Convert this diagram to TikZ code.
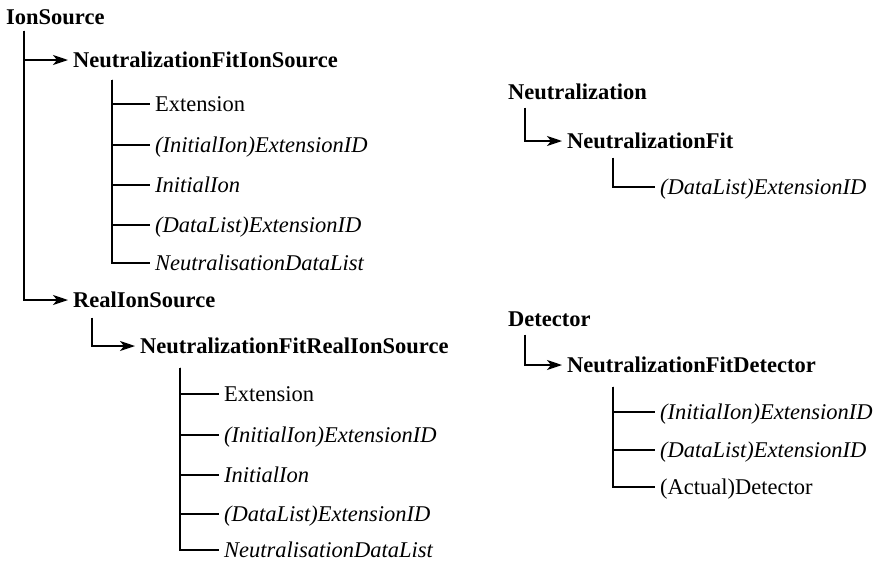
\documentclass[tikz,border=0pt]{standalone}
\usepackage{fontspec}
\setmainfont{Liberation Serif}
\usetikzlibrary{arrows.meta}
\begin{document}
\begin{tikzpicture}[x=1pt,y=-1pt,
  every node/.style={inner sep=0pt, anchor=west, text height=15pt, text depth=0pt,
    font=\fontsize{22.5}{27}\selectfont},
  head/.style={font=\fontsize{22.5}{27}\selectfont\bfseries},
  sub/.style={font=\fontsize{22.5}{27}\selectfont\itshape},
  link/.style={line width=1.6pt},
  arr/.style={link, -{Stealth[length=15pt,width=10pt,inset=4pt]}, shorten >=5pt},
  twig/.style={line width=1.3pt, shorten >=5pt}]

\useasboundingbox (0,0) rectangle (883,563);

% IonSource hierarchy
\node[head] (ion)   at (6,17)  {IonSource};
\node[head] (nfis)  at (73,60) {NeutralizationFitIonSource};
\node       (a1)    at (155,104) {Extension};
\node[sub]  (a2)    at (155,145) {(InitialIon)ExtensionID};
\node[sub]  (a3)    at (155,185) {InitialIon};
\node[sub]  (a4)    at (155,225) {(DataList)ExtensionID};
\node[sub]  (a5)    at (155,263) {NeutralisationDataList};
\node[head] (ris)   at (73,300) {RealIonSource};
\node[head] (nfris) at (140,346) {NeutralizationFitRealIonSource};
\node       (b1)    at (224,394) {Extension};
\node[sub]  (b2)    at (224,435) {(InitialIon)ExtensionID};
\node[sub]  (b3)    at (224,475) {InitialIon};
\node[sub]  (b4)    at (224,514) {(DataList)ExtensionID};
\node[sub]  (b5)    at (224,550) {NeutralisationDataList};

% Neutralization hierarchy
\node[head] (neu) at (508,92)  {Neutralization};
\node[head] (nf)  at (567,141) {NeutralizationFit};
\node[sub]  (c1)  at (660,187) {(DataList)ExtensionID};

% Detector hierarchy
\node[head] (det) at (508,319) {Detector};
\node[head] (nfd) at (567,365) {NeutralizationFitDetector};
\node[sub]  (d1)  at (660,412) {(InitialIon)ExtensionID};
\node[sub]  (d2)  at (660,450) {(DataList)ExtensionID};
\node       (d3)  at (660,487) {(Actual)Detector};

% connectors
\draw[arr] ([xshift=18pt,yshift=-6pt]ion.south west) |- (nfis.west);
\draw[arr] ([xshift=18pt,yshift=-6pt]ion.south west) |- (ris.west);
\foreach \c in {a1,a2,a3,a4,a5}
  \draw[twig] ([xshift=39pt,yshift=-12pt]nfis.south west) |- (\c.west);
\draw[arr] ([xshift=19pt,yshift=-10pt]ris.south west) |- (nfris.west);
\foreach \c in {b1,b2,b3,b4,b5}
  \draw[twig] ([xshift=40pt,yshift=-14pt]nfris.south west) |- (\c.west);

\draw[arr] ([xshift=17pt,yshift=-8pt]neu.south west) |- (nf.west);
\draw[twig] ([xshift=46pt,yshift=-9pt]nf.south west) |- (c1.west);

\draw[arr] ([xshift=17pt,yshift=-8pt]det.south west) |- (nfd.west);
\foreach \c in {d1,d2,d3}
  \draw[twig] ([xshift=46pt,yshift=-14pt]nfd.south west) |- (\c.west);
\end{tikzpicture}
\end{document}
